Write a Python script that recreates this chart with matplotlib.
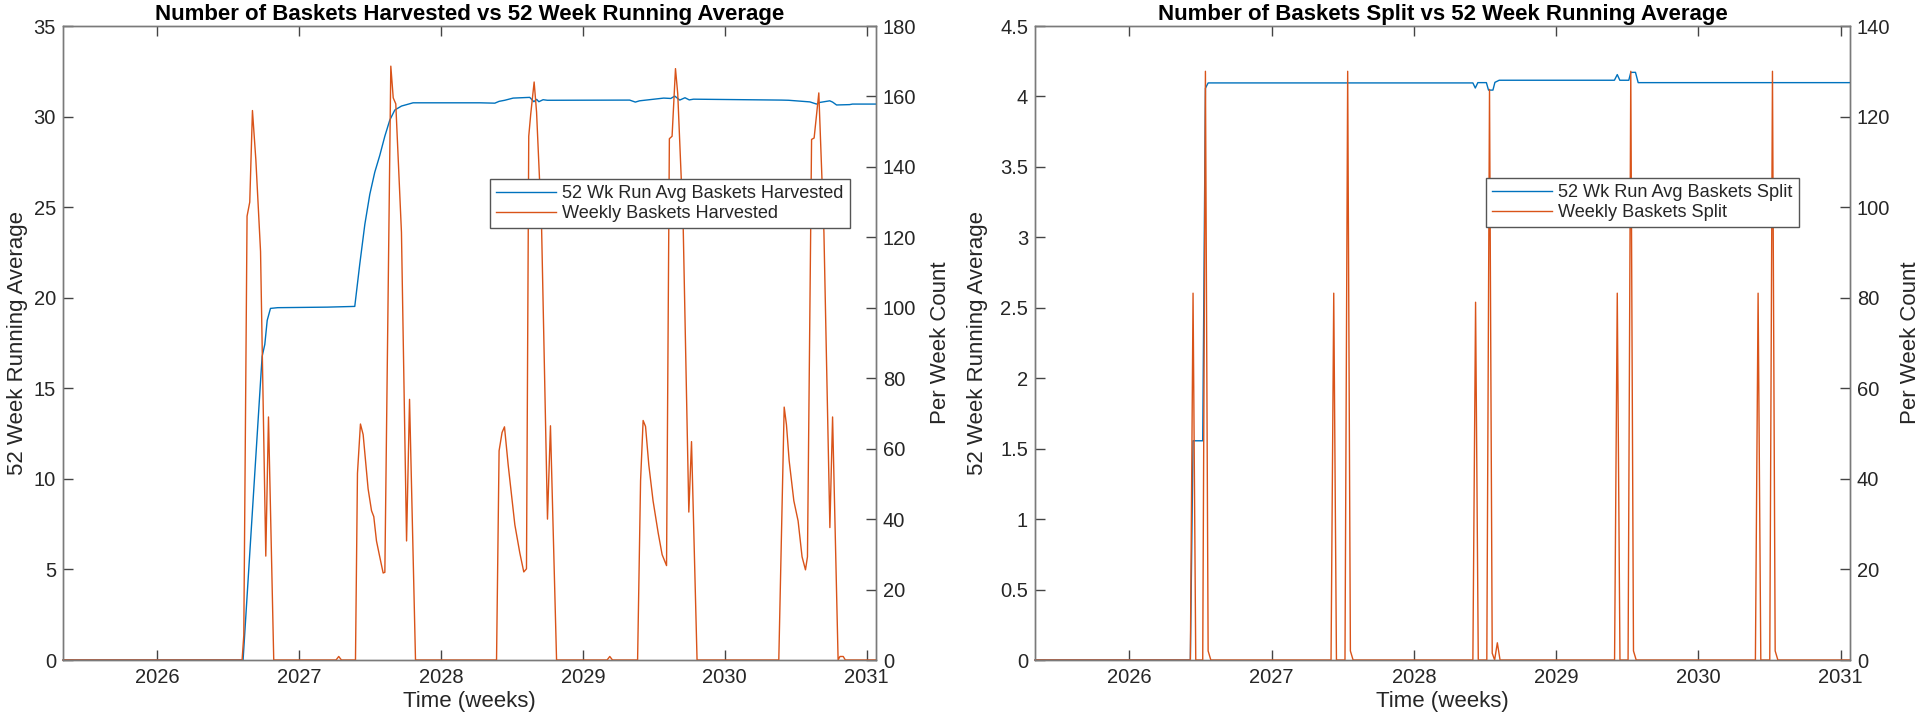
import matplotlib
matplotlib.use('Agg')
import matplotlib.pyplot as plt
from matplotlib.ticker import FuncFormatter

plt.rcParams['font.family'] = ['Liberation Sans', 'DejaVu Sans']

BLUE = '#0072BD'
ORANGE = '#D95319'
TXT = '#262626'
AXC = '#7a7a7a'

X_MIN, X_MAX = 2025.337, 2031.066
year_ticks = [2026, 2027, 2028, 2029, 2030, 2031]

# ---- Left panel: baskets harvested ----
harv_avg_t = [2025.337, 2026.606, 2026.740, 2026.759, 2026.776, 2026.799, 2026.85, 2027.2,
              2027.393, 2027.428, 2027.464, 2027.499, 2027.534, 2027.569, 2027.605, 2027.640,
              2027.675, 2027.722, 2027.804, 2028.275, 2028.38, 2028.41, 2028.45, 2028.509,
              2028.626, 2028.655, 2028.675, 2028.69, 2028.72, 2028.75, 2029.33, 2029.37,
              2029.40, 2029.57, 2029.62, 2029.648, 2029.683, 2029.72, 2029.75, 2029.78,
              2030.40, 2030.45, 2030.60, 2030.647, 2030.67, 2030.74, 2030.76, 2030.788,
              2030.88, 2030.9, 2031.066]
harv_avg_v = [0, 0, 16.75, 17.42, 18.75, 19.41, 19.45, 19.48,
              19.52, 21.84, 24.05, 25.71, 26.93, 27.85, 28.92, 29.81,
              30.36, 30.58, 30.76, 30.76, 30.74, 30.84, 30.90, 31.02,
              31.06, 30.82, 30.95, 30.82, 30.93, 30.90, 30.91, 30.80,
              30.87, 31.02, 31.00, 31.13, 30.91, 31.04, 30.92, 30.96,
              30.91, 30.90, 30.81, 30.69, 30.78, 30.87, 30.80, 30.64,
              30.66, 30.69, 30.69]

harv_wk_t = [2025.337, 2026.599, 2026.611, 2026.634, 2026.653, 2026.672, 2026.696, 2026.729,
             2026.766, 2026.785, 2026.822, 2027.261, 2027.280, 2027.299, 2027.398, 2027.412,
             2027.433, 2027.452, 2027.487, 2027.511, 2027.527, 2027.546, 2027.569, 2027.593,
             2027.605, 2027.647, 2027.664, 2027.682, 2027.722, 2027.758, 2027.779, 2027.821,
             2028.392, 2028.410, 2028.431, 2028.448, 2028.474, 2028.521, 2028.556, 2028.584,
             2028.603, 2028.619, 2028.633, 2028.657, 2028.674, 2028.709, 2028.751, 2028.772,
             2028.815, 2029.171, 2029.190, 2029.209, 2029.386, 2029.407, 2029.425, 2029.442,
             2029.465, 2029.495, 2029.531, 2029.559, 2029.590, 2029.610, 2029.629, 2029.653,
             2029.669, 2029.707, 2029.747, 2029.766, 2029.805, 2030.381, 2030.419, 2030.435,
             2030.454, 2030.487, 2030.517, 2030.545, 2030.569, 2030.583, 2030.612, 2030.630,
             2030.663, 2030.699, 2030.741, 2030.760, 2030.799, 2030.812, 2030.835, 2030.850,
             2031.066]
harv_wk_v = [0, 0, 7, 126, 130, 156, 142, 116,
             29.5, 69, 0, 0, 1, 0, 0, 53,
             67, 64, 48.6, 42.4, 40.7, 33.8, 29.3, 24.7,
             24.9, 168.6, 159.6, 157.9, 121.4, 33.8, 74, 0,
             0, 59.4, 64.6, 66.2, 55.4, 38.4, 30.4, 25,
             25.9, 148.7, 155, 164.1, 155.6, 123.7, 40, 66.5,
             0, 0, 1, 0, 0, 50.9, 68, 66.3,
             55.4, 45.2, 36.1, 29.9, 26.8, 148, 148.7, 167.9,
             160.7, 123.7, 42, 62, 0, 0, 71.8, 66.8,
             56.6, 45.2, 39.5, 29.3, 25.6, 29.3, 147.8, 148.2,
             161, 121.4, 37.6, 69, 0, 1, 1, 0,
             0]

# ---- Right panel: baskets split ----
split_avg_t = [2025.337, 2026.429, 2026.448, 2026.516, 2026.535, 2026.554, 2028.415, 2028.432,
               2028.450, 2028.510, 2028.525, 2028.556, 2028.570, 2028.600, 2029.410, 2029.430,
               2029.448, 2029.511, 2029.525, 2029.558, 2029.577, 2031.066]
split_avg_v = [0, 0, 1.556, 1.556, 4.058, 4.096, 4.096, 4.060,
               4.098, 4.098, 4.045, 4.045, 4.100, 4.115, 4.115, 4.155,
               4.115, 4.115, 4.171, 4.171, 4.098, 4.098]

split_wk_t = [2025.337,
              2026.429, 2026.448, 2026.467, 2026.516, 2026.535, 2026.554, 2026.573,
              2027.418, 2027.437, 2027.456, 2027.516, 2027.535, 2027.554, 2027.573,
              2028.415, 2028.434, 2028.453, 2028.513, 2028.532, 2028.551, 2028.568, 2028.587, 2028.606,
              2029.411, 2029.430, 2029.449, 2029.506, 2029.525, 2029.544, 2029.563,
              2030.401, 2030.420, 2030.439, 2030.502, 2030.521, 2030.540, 2030.559,
              2031.066]
split_wk_v = [0,
              0, 81, 0, 0, 130, 2, 0,
              0, 81, 0, 0, 130, 2, 0,
              0, 79, 0, 0, 126, 1.5, 0, 3.8, 0,
              0, 81, 0, 0, 130, 2, 0,
              0, 81, 0, 0, 130, 2, 0,
              0]

fmt_g = FuncFormatter(lambda v, p: ('%g' % round(v, 6)))


def style_axis(a):
    for s in a.spines.values():
        s.set_color(AXC)
        s.set_linewidth(1.0)


def panel(ax, title, t_avg, v_avg, t_wk, v_wk, lticks, rticks, avg_label, wk_label,
          legend_xy, ylab_x, y2lab_x):
    l1, = ax.plot(t_avg, v_avg, color=BLUE, lw=1.0, clip_on=False, zorder=3)
    ax.set_xlim(X_MIN, X_MAX)
    ax.set_ylim(lticks[0], lticks[-1])
    ax.set_yticks(lticks)
    ax.yaxis.set_major_formatter(fmt_g)
    ax.set_xticks(year_ticks)
    ax.set_xticklabels([str(y) for y in year_ticks])
    ax.tick_params(axis='x', direction='in', top=True, bottom=True, length=7, width=1,
                   color='#444444', labelsize=14.5, labelcolor=TXT, pad=6)
    ax.tick_params(axis='y', direction='in', left=True, right=False, length=7, width=1,
                   color='#444444', labelsize=14.5, labelcolor=TXT, pad=5)
    ax.set_xlabel('Time (weeks)', fontsize=16, color=TXT, labelpad=3)
    ax.set_ylabel('52 Week Running Average', fontsize=16, color=TXT)
    ax.yaxis.set_label_coords(ylab_x, 0.5)
    ax.set_title(title, fontsize=16, fontweight='bold', color='black', pad=4)
    style_axis(ax)

    axr = ax.twinx()
    l2, = axr.plot(t_wk, v_wk, color=ORANGE, lw=1.0, clip_on=False)
    axr.set_xlim(X_MIN, X_MAX)
    axr.set_ylim(rticks[0], rticks[-1])
    axr.set_yticks(rticks)
    axr.tick_params(axis='y', direction='in', right=True, left=False, length=7, width=1,
                    color='#444444', labelsize=14.5, labelcolor=TXT, pad=5)
    axr.set_ylabel('Per Week Count', fontsize=16, color=TXT, rotation=90)
    axr.yaxis.set_label_coords(y2lab_x, 0.5)
    style_axis(axr)

    leg = axr.legend([l1, l2], [avg_label, wk_label], loc='upper left',
                     bbox_to_anchor=(legend_xy[0] / 1922, 1 - legend_xy[1] / 720),
                     bbox_transform=fig.transFigure, borderaxespad=0, fontsize=13.1,
                     frameon=True, fancybox=False, framealpha=1, edgecolor='#555555',
                     handlelength=3.3, handletextpad=0.3, borderpad=0.35, labelspacing=0.15,
                     labelcolor=TXT)
    leg.get_frame().set_linewidth(1.0)
    return axr


fig = plt.figure(figsize=(19.22, 7.2), dpi=100)
ax1 = fig.add_axes([63 / 1922, 60 / 720, 813 / 1922, 634 / 720])
ax2 = fig.add_axes([1035 / 1922, 60 / 720, 815 / 1922, 634 / 720])

panel(ax1, 'Number of Baskets Harvested vs 52 Week Running Average',
      harv_avg_t, harv_avg_v, harv_wk_t, harv_wk_v,
      [0, 5, 10, 15, 20, 25, 30, 35], [0, 20, 40, 60, 80, 100, 120, 140, 160, 180],
      '52 Wk Run Avg Baskets Harvested', 'Weekly Baskets Harvested',
      (490, 179), -0.043, 1.066)

panel(ax2, 'Number of Baskets Split vs 52 Week Running Average',
      split_avg_t, split_avg_v, split_wk_t, split_wk_v,
      [0, 0.5, 1, 1.5, 2, 2.5, 3, 3.5, 4, 4.5], [0, 20, 40, 60, 80, 100, 120, 140],
      '52 Wk Run Avg Baskets Split', 'Weekly Baskets Split',
      (1486, 178), -0.058, 1.061)

fig.savefig('out.png', dpi=100, facecolor='white')
